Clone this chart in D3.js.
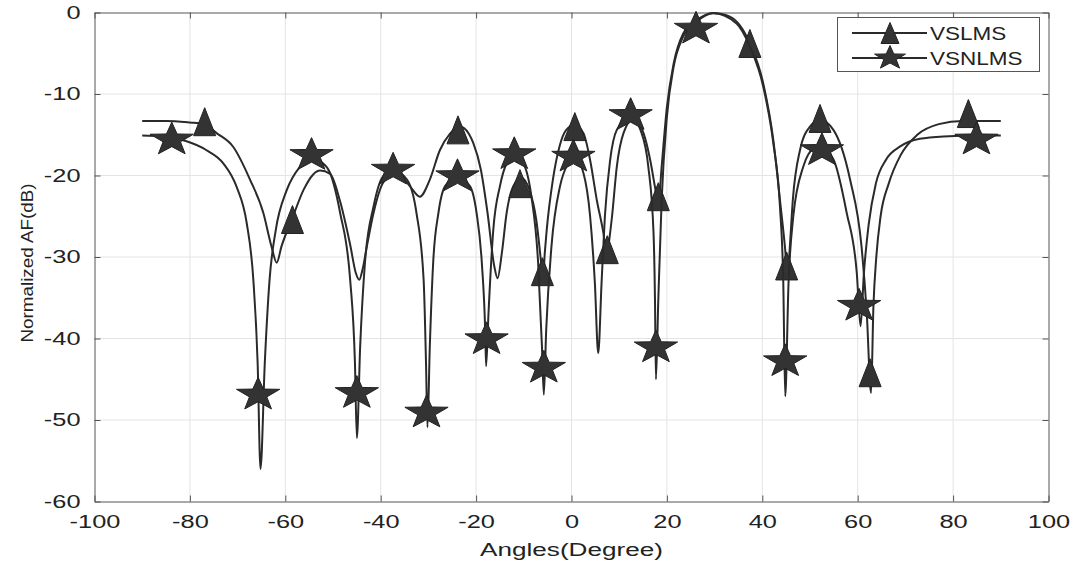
<!DOCTYPE html>
<html>
<head>
<meta charset="utf-8">
<script src="https://cdn.jsdelivr.net/npm/d3@7"></script>
<style>
  body { margin: 0; background: #fff; }
  svg { display: block; font-family: "Liberation Sans", Arial, sans-serif; }
</style>
</head>
<body>
<div id="container"></div>
<script>
// VSLMS curve (angle in degree, normalized AF in dB)
const vslmsAngles = [-90, -85, -80, -77, -74.4, -70.9, -67.4, -64.6, -62.9, -61.8, -60.8, -58.5, -56.2, -54.2, -52.7, -50.6,
  -48.5, -46.4, -45.2, -44.5, -43.8, -42.9, -41.5, -39.5, -36.7, -33.9, -31.8, -29.7, -27.6, -25.5, -23.4, -21.5,
  -20.6, -19, -17.6, -16.2, -15.5, -14.6, -13.6, -12.2, -10.5, -8.8, -7.4, -6.3, -6, -5.6, -5.2, -3.9,
  -2.5, -1.1, 0.6, 2.5, 3.9, 5.3, 6.7, 7.4, 8, 8.5, 9.5, 10.9, 13, 15.1, 16.5, 17.5,
  18.2, 18.9, 20, 21.4, 23.4, 26.2, 29.7, 33.2, 37.4, 40.2, 42.3, 43.7, 44.8, 45.3, 45.8, 46.4,
  47.9, 50, 52.1, 54.9, 58.4, 60.8, 61.9, 62.8, 63.3, 63.9, 64.8, 66.5, 69, 72.5, 77, 82, 90]
const vslmsDb = [-13.3, -13.3, -13.5, -13.7, -14.8, -16.5, -20.5, -24.6, -28.7, -30.7, -28.7, -25.2, -21.8, -19.9, -19.4, -19.8,
  -23.2, -28.5, -32, -32.8, -31.5, -28.7, -24.6, -20.9, -19.6, -21.3, -22.6, -20.5, -16.9, -14.9, -14, -14.9,
  -16, -19.3, -24.6, -31.1, -32.6, -29.5, -24.6, -21.3, -20.3, -21.8, -25.4, -31.1, -32.8, -29.5, -26.7, -20.5,
  -16.4, -14.4, -13.8, -14.8, -18.1, -23, -27.1, -29.8, -27.5, -25, -18.9, -14.8, -13, -14.8, -18.1, -21.4,
  -23.6, -18.9, -11.6, -6.3, -2.6, -0.95, -0.05, -0.5, -3.8, -8.7, -15.6, -23, -29.1, -32.5, -28.5, -23,
  -16.9, -14, -13.2, -14.4, -20.5, -28.7, -36.9, -46.7, -36, -30, -25, -21, -17.5, -15, -13.7, -13.3, -13.3]

// VSNLMS curve
const vsnlmsAngles = [-90, -86, -83.8, -80.7, -76.5, -73, -70.2, -68.1, -66.7, -65.8, -65.2, -64.3, -63.3, -62, -59.7, -56.9,
  -54.5, -52.5, -50.6, -48.5, -46.4, -45.4, -45, -44.3, -43.3, -41.5, -39.5, -37.4, -34.5, -32.5, -31, -30.5,
  -30.2, -29.7, -29, -27.9, -26.5, -24, -21.3, -19.9, -18.8, -18.1, -17.9, -17.4, -16.4, -15, -13.6, -12,
  -10.1, -8.4, -7, -6.2, -5.8, -5.3, -4.2, -2.4, -0.7, 0.5, 2.5, 3.9, 4.9, 5.6, 6.3, 7,
  8.1, 9.5, 12.3, 14.7, 16.1, 17.2, 17.5, 17.7, 18.2, 18.9, 20, 21.4, 23.4, 26.1, 29.7, 34.6,
  37.4, 40.2, 42.3, 43.7, 44.4, 44.8, 45.5, 46.5, 48.6, 50.7, 52.3, 54.9, 57.7, 59.8, 60.6, 61.3,
  62.3, 63.8, 66, 69, 73, 78, 85, 90]
const vsnlmsDb = [-15.1, -15.2, -15.4, -15.8, -16.9, -18.5, -21.4, -25.8, -32.8, -43, -56, -43, -32.8, -26.7, -21.8, -18.9,
  -17.8, -18.3, -19.7, -24.6, -32.8, -43, -52.2, -40.9, -30.7, -23.8, -20.1, -19.4, -20.5, -24.6, -32.8, -43,
  -50.9, -40.9, -30.7, -24.6, -21.3, -20.2, -21.3, -24.6, -30.7, -38.9, -43.4, -36.9, -26.7, -21.3, -18.5, -17.5,
  -18.5, -22.6, -30.7, -40.9, -46.9, -38.9, -28.7, -21.3, -18.5, -17.6, -19.7, -25, -33.2, -41.8, -33.2, -25,
  -18.1, -14.4, -12.8, -14.8, -18.9, -27.1, -35.2, -45, -35.2, -23, -12.8, -6.7, -3, -1.2, -0.1, -1.35,
  -4.2, -9.1, -16, -23.8, -33.2, -47.1, -33.2, -25, -18.9, -16.8, -16.6, -18, -24.6, -31.9, -38.5, -32,
  -26, -21, -18, -16.4, -15.5, -15.2, -15.1, -15.1]

// marker positions
const vslmsMarkAngles = [-76.9, -58.5, -23.8, -10.8, -6.1, 0.7, 7.5, 18.2, 37.4, 45.1, 52.1, 62.6, 83.2]
const vslmsMarkDb = [-13.4, -25.4, -14.4, -21.0, -31.8, -14.0, -29.1, -22.6, -3.8, -31.1, -13.0, -44.2, -12.4]
const vsnlmsMarkAngles = [-83.8, -65.7, -54.5, -45.0, -37.4, -30.4, -23.9, -17.8, -12.0, -5.8, 0.4, 12.4, 17.7, 26.1, 44.8, 52.5, 60.3, 84.9]
const vsnlmsMarkDb = [-15.6, -46.9, -17.5, -46.7, -19.3, -49.1, -20.1, -40.1, -17.4, -43.6, -17.7, -12.6, -41.1, -2.0, -42.8, -16.9, -36.0, -15.6]

const xTicks = [-100, -80, -60, -40, -20, 0, 20, 40, 60, 80, 100]
const yTicks = [0, -10, -20, -30, -40, -50, -60]
const seriesNames = ['VSLMS', 'VSNLMS']

const w = 1076
const h = 565
const padLeft = 94.5
const padRight = 1048.5
const padTop = 12.5
const padBottom = 501.5
const ink = '#2a2a2a'

const svg = d3.select('#container')
  .append('svg')
  .attr('width', w)
  .attr('height', h)

const xScale = d3.scaleLinear().domain([-100, 100]).range([padLeft, padRight])
const yScale = d3.scaleLinear().domain([-60, 0]).range([padBottom, padTop])

// stretch text horizontally like the reference
function stretch(sel, k) {
  sel.each(function () {
    const len = this.getComputedTextLength()
    d3.select(this).attr('textLength', len * k).attr('lengthAdjust', 'spacingAndGlyphs')
  })
}

// grid
svg.append('g')
  .selectAll('line')
  .data(xTicks.slice(1, -1))
  .enter().append('line')
  .attr('x1', d => xScale(d)).attr('x2', d => xScale(d))
  .attr('y1', padTop).attr('y2', padBottom)
  .attr('stroke', '#e4e4e4').attr('stroke-width', 1)
svg.append('g')
  .selectAll('line')
  .data(yTicks.slice(1, -1))
  .enter().append('line')
  .attr('x1', padLeft).attr('x2', padRight)
  .attr('y1', d => yScale(d)).attr('y2', d => yScale(d))
  .attr('stroke', '#e4e4e4').attr('stroke-width', 1)

// axes, ticks inward
const xAxis = d3.axisBottom(xScale).tickValues(xTicks).tickSize(-6).tickPadding(14).tickSizeOuter(0)
const gx = svg.append('g')
  .attr('transform', 'translate(0,' + padBottom + ')')
  .call(xAxis)
svg.append('g')
  .attr('transform', 'translate(0,' + padTop + ')')
  .call(d3.axisTop(xScale).tickValues(xTicks).tickSize(-6).tickFormat('').tickSizeOuter(0))

const yAxis = d3.axisLeft(yScale).tickValues(yTicks).tickSize(-6).tickPadding(14).tickSizeOuter(0)
const gy = svg.append('g')
  .attr('transform', 'translate(' + padLeft + ',0)')
  .call(yAxis)
svg.append('g')
  .attr('transform', 'translate(' + padRight + ',0)')
  .call(d3.axisRight(yScale).tickValues(yTicks).tickSize(-6).tickFormat('').tickSizeOuter(0))

svg.selectAll('.domain').attr('stroke', '#555')
svg.selectAll('.tick line').attr('stroke', '#555')

gx.selectAll('text')
  .attr('fill', '#222')
  .style('font-size', '17.5px')
  .text(d => d < 0 ? '-' + Math.abs(d) : d)
gy.selectAll('text')
  .attr('fill', '#222')
  .style('font-size', '17.5px')
  .text(d => d < 0 ? '-' + Math.abs(d) : d)
stretch(gx.selectAll('text'), 1.45)
stretch(gy.selectAll('text'), 1.45)

// axis labels
const xl = svg.append('text')
  .attr('x', (padLeft + padRight) / 2)
  .attr('y', 556)
  .attr('text-anchor', 'middle')
  .attr('fill', '#222')
  .style('font-size', '18px')
  .text('Angles(Degree)')
stretch(xl, 1.45)

svg.append('text')
  .attr('transform', 'translate(32.5,' + 263 + ') rotate(-90)')
  .attr('text-anchor', 'middle')
  .attr('fill', '#222')
  .style('font-size', '17px')
  .attr('textLength', 159)
  .attr('lengthAdjust', 'spacingAndGlyphs')
  .text('Normalized AF(dB)')

// markers
function starPath(r, sx) {
  const ri = r * 0.4
  let p = ''
  for (let i = 0; i < 10; i++) {
    const a = -Math.PI / 2 + i * Math.PI / 5
    const rr = i % 2 === 0 ? r : ri
    p += (i === 0 ? 'M' : 'L') + (Math.cos(a) * rr * sx).toFixed(2) + ',' + (Math.sin(a) * rr).toFixed(2)
  }
  return p + 'Z'
}
function triPath(tw, th) {
  return 'M0,' + (-th / 2) + 'L' + (tw / 2) + ',' + (th / 2) + 'L' + (-tw / 2) + ',' + (th / 2) + 'Z'
}

const line = d3.line()
  .x(d => xScale(d[0]))
  .y(d => yScale(d[1]))
  .curve(d3.curveMonotoneX)

const plot = svg.append('g')

plot.append('path')
  .datum(d3.zip(vslmsAngles, vslmsDb))
  .attr('d', line)
  .attr('fill', 'none')
  .attr('stroke', ink)
  .attr('stroke-width', 2)

plot.selectAll('.tri')
  .data(d3.zip(vslmsMarkAngles, vslmsMarkDb))
  .enter().append('path')
  .attr('class', 'tri')
  .attr('d', triPath(22, 28))
  .attr('transform', d => 'translate(' + xScale(d[0]) + ',' + yScale(d[1]) + ')')
  .attr('fill', '#333')
  .attr('stroke', '#222')
  .attr('stroke-width', 1)

plot.append('path')
  .datum(d3.zip(vsnlmsAngles, vsnlmsDb))
  .attr('d', line)
  .attr('fill', 'none')
  .attr('stroke', ink)
  .attr('stroke-width', 2)

plot.selectAll('.star')
  .data(d3.zip(vsnlmsMarkAngles, vsnlmsMarkDb))
  .enter().append('path')
  .attr('class', 'star')
  .attr('d', starPath(17.5, 1.3))
  .attr('transform', d => 'translate(' + xScale(d[0]) + ',' + yScale(d[1]) + ')')
  .attr('fill', '#333')
  .attr('stroke', '#222')
  .attr('stroke-width', 1)

// legend
const legend = svg.append('g').attr('id', 'legend')
legend.append('rect')
  .attr('x', 837.5).attr('y', 17.5)
  .attr('width', 202).attr('height', 54)
  .attr('fill', '#fff')
  .attr('stroke', '#555')

const rows = legend.selectAll('g.row')
  .data(seriesNames)
  .enter().append('g')
  .attr('transform', (d, i) => 'translate(0,' + (33 + i * 25) + ')')
rows.append('line')
  .attr('x1', 852).attr('x2', 927)
  .attr('stroke', ink).attr('stroke-width', 2)
rows.append('path')
  .attr('d', (d, i) => i === 0 ? triPath(18, 21) : starPath(12.5, 1.3))
  .attr('transform', 'translate(890,0)')
  .attr('fill', '#333')
  .attr('stroke', '#222')
const lt = rows.append('text')
  .attr('x', 930)
  .attr('y', 7)
  .attr('fill', '#222')
  .style('font-size', '18px')
  .text(d => d)
stretch(lt, 1.25)
</script>
</body>
</html>
